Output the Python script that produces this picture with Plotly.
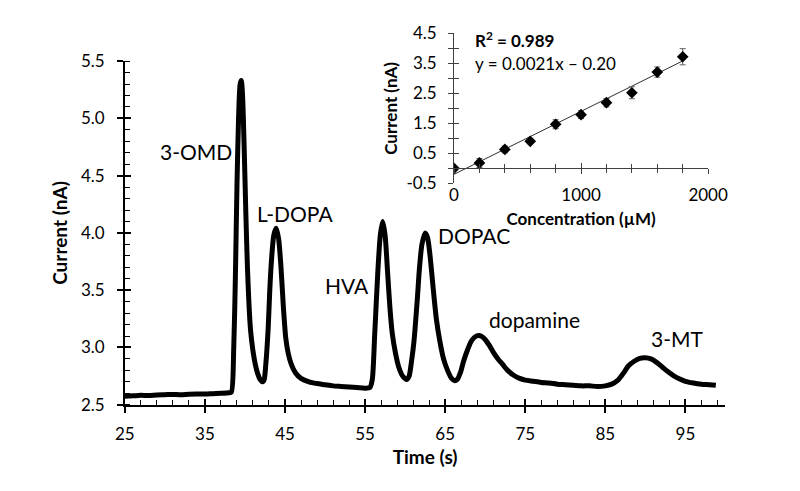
import plotly.graph_objects as go

# ---------------- data: chromatogram ----------------
time_s = [25.0, 26.0, 27.0, 28.0, 29.0, 30.0, 31.0, 32.0, 33.0, 34.0, 35.0, 36.0, 37.0, 38.0,
          38.3, 38.6, 38.8, 39.0, 39.2, 39.4, 39.55, 39.7, 39.9, 40.1, 40.3, 40.5, 40.7, 41.0,
          41.3, 41.6, 41.9, 42.2, 42.4, 42.6, 42.9, 43.1, 43.3, 43.6, 43.9, 44.2, 44.5, 44.8,
          45.1, 45.4, 45.8, 46.3, 47.0, 48.0, 49.0, 50.0, 51.0, 52.0, 53.0, 54.0, 55.0, 55.6,
          55.9, 56.2, 56.6, 56.9, 57.2, 57.5, 57.8, 58.1, 58.4, 58.8, 59.2, 59.7, 60.2, 60.5,
          60.8, 61.1, 61.5, 61.8, 62.1, 62.5, 62.8, 63.1, 63.5, 63.9, 64.3, 64.8, 65.3, 65.8,
          66.2, 66.5, 66.9, 67.3, 67.8, 68.3, 68.9, 69.5, 70.0, 70.5, 71.0, 71.6, 72.2, 72.8,
          73.5, 74.3, 75.0, 76.0, 77.0, 78.0, 79.0, 80.0, 81.0, 82.0, 83.0, 84.0, 85.0, 85.8,
          86.5, 87.2, 87.9, 88.6, 89.3, 90.0, 90.7, 91.4, 92.1, 92.8, 93.5, 94.3, 95.0, 96.0,
          97.0, 98.0, 98.8]
current_nA = [2.575, 2.578, 2.582, 2.580, 2.586, 2.588, 2.590, 2.587, 2.592, 2.594, 2.593, 2.597, 2.600, 2.605,
              2.61, 3.00, 3.60, 4.40, 5.00, 5.30, 5.33, 5.20, 4.75, 4.20, 3.72, 3.38, 3.15, 2.97,
              2.85, 2.77, 2.72, 2.70, 2.72, 2.85, 3.17, 3.50, 3.75, 3.98, 4.04, 3.95, 3.70, 3.35,
              3.08, 2.95, 2.85, 2.78, 2.73, 2.70, 2.685, 2.675, 2.665, 2.66, 2.655, 2.65, 2.645, 2.65,
              2.72, 3.11, 3.67, 3.98, 4.10, 3.98, 3.67, 3.35, 3.12, 2.95, 2.83, 2.75, 2.72, 2.75,
              2.88, 3.05, 3.40, 3.70, 3.90, 4.00, 3.96, 3.81, 3.52, 3.25, 3.07, 2.90, 2.80, 2.73,
              2.71, 2.72, 2.78, 2.88, 2.98, 3.06, 3.10, 3.10, 3.07, 3.02, 2.96, 2.90, 2.85, 2.80,
              2.76, 2.73, 2.715, 2.705, 2.695, 2.69, 2.68, 2.675, 2.67, 2.665, 2.665, 2.66, 2.665, 2.68,
              2.71, 2.77, 2.84, 2.88, 2.905, 2.91, 2.90, 2.87, 2.83, 2.79, 2.755, 2.725, 2.705, 2.69,
              2.68, 2.675, 2.67]

peak_names = ["3-OMD", "L-DOPA", "HVA", "DOPAC", "dopamine", "3-MT"]
peak_label_t = [33.9, 46.2, 52.8, 68.6, 76.2, 94.0]
peak_label_y = [4.71, 4.17, 3.54, 3.98, 3.24, 3.08]

# ---------------- data: calibration inset ----------------
conc_uM = [0, 200, 400, 600, 800, 1000, 1200, 1400, 1600, 1800]
cal_current = [0.00, 0.18, 0.63, 0.90, 1.47, 1.79, 2.19, 2.52, 3.21, 3.72]
cal_error = [0.00, 0.15, 0.11, 0.08, 0.15, 0.13, 0.14, 0.20, 0.17, 0.27]
fit_slope = 0.0021
fit_intercept = -0.20
fit_x = [0, 1800]
inset_ytick_vals = [-0.5, 0.5, 1.5, 2.5, 3.5, 4.5]
inset_ytick_text = ["-0.5", "0.5", "1.5", "2.5", "3.5", "4.5"]
inset_xtick_vals = [0, 1000, 2000]

FONT = "Lato"
W, H = 800, 491

# geometry (pixels)
main_l, main_r, main_t, main_b = 111, 735, 44, 403
ins_l, ins_r, ins_t, ins_b = 453, 717, 15, 171.7

main_xdom = [main_l / W, main_r / W]
main_ydom = [1 - main_b / H, 1 - main_t / H]
ins_xdom = [ins_l / W, ins_r / W]
ins_ydom = [1 - ins_b / H, 1 - ins_t / H]
ins_yrange = [-0.5, 4.5]
zero_pos = ins_ydom[0] + (0 - ins_yrange[0]) / (ins_yrange[1] - ins_yrange[0]) * (ins_ydom[1] - ins_ydom[0])

fig = go.Figure()

fig.add_trace(go.Scatter(x=time_s, y=current_nA, mode="lines",
                         line=dict(color="black", width=5, shape="spline", smoothing=0.7),
                         xaxis="x", yaxis="y", hoverinfo="skip"))

fit_y = [fit_slope * v + fit_intercept for v in fit_x]
fig.add_trace(go.Scatter(x=fit_x, y=fit_y, mode="lines",
                         line=dict(color="#303030", width=1),
                         xaxis="x2", yaxis="y2", hoverinfo="skip"))
fig.add_trace(go.Scatter(x=conc_uM, y=cal_current, mode="markers",
                         marker=dict(symbol="diamond", size=9, color="black"),
                         error_y=dict(type="data", array=cal_error, visible=True,
                                      color="#606060", thickness=1, width=3),
                         xaxis="x2", yaxis="y2", hoverinfo="skip"))

# empty traces so that the tick-only overlay axes get drawn (cross-style ticks)
for xa, ya in [("x3", "y"), ("x", "y3"), ("x2", "y4"), ("x4", "y2"), ("x5", "y2")]:
    fig.add_trace(go.Scatter(x=[], y=[], mode="lines", xaxis=xa, yaxis=ya,
                             hoverinfo="skip", showlegend=False))

axis_common = dict(showgrid=False, zeroline=False)

fig.update_layout(
    width=W, height=H,
    margin=dict(l=0, r=0, t=0, b=0),
    plot_bgcolor="rgba(0,0,0,0)", paper_bgcolor="white",
    showlegend=False,
    font=dict(family=FONT, size=17, color="black"),
    xaxis=dict(domain=main_xdom, anchor="y", range=[25, 100], tick0=25, dtick=10,
               ticks="outside", ticklen=6, tickwidth=1.5, tickcolor="black",
               ticklabelstandoff=7,
               minor=dict(ticks="inside", tick0=25, dtick=2, ticklen=5, tickwidth=1, tickcolor="black"),
               showline=True, linecolor="black", linewidth=1.5,
               title=dict(text="<b>Time (s)</b>", standoff=8, font=dict(size=19)),
               **axis_common),
    xaxis3=dict(overlaying="x", anchor="y", range=[25, 100], tick0=25, dtick=10,
                ticks="inside", ticklen=6, tickwidth=1.5, tickcolor="black",
                showticklabels=False, showline=False, **axis_common),
    yaxis=dict(domain=main_ydom, anchor="x", range=[2.5, 5.5], tick0=2.5, dtick=0.5,
               tickformat=".1f",
               ticks="outside", ticklen=6, tickwidth=1.5, tickcolor="black",
               ticklabelstandoff=9,
               minor=dict(ticks="inside", tick0=2.5, dtick=0.1, ticklen=5, tickwidth=1, tickcolor="black"),
               showline=True, linecolor="black", linewidth=1.5,
               title=dict(text="<b>Current (nA)</b>", standoff=8, font=dict(size=19)),
               **axis_common),
    yaxis3=dict(overlaying="y", anchor="x", range=[2.5, 5.5], tick0=2.5, dtick=0.5,
                ticks="inside", ticklen=6, tickwidth=1.5, tickcolor="black",
                showticklabels=False, showline=False, **axis_common),
    # inset
    xaxis2=dict(domain=ins_xdom, anchor="y2", range=[0, 2000], tickvals=inset_xtick_vals,
                ticks="", showline=False,
                title=dict(text="<b>Concentration (µM)</b>", standoff=8, font=dict(size=17)),
                **axis_common),
    xaxis4=dict(overlaying="x2", anchor="free", position=zero_pos, range=[0, 2000],
                tick0=0, dtick=1000, ticks="outside", ticklen=5, tickwidth=1, tickcolor="#404040",
                minor=dict(ticks="outside", tick0=0, dtick=200, ticklen=4, tickwidth=1, tickcolor="#404040"),
                showticklabels=False, showline=True, linecolor="#404040", linewidth=1,
                **axis_common),
    xaxis5=dict(overlaying="x2", anchor="free", position=zero_pos, range=[0, 2000],
                tick0=0, dtick=1000, ticks="inside", ticklen=5, tickwidth=1, tickcolor="#404040",
                minor=dict(ticks="inside", tick0=0, dtick=200, ticklen=4, tickwidth=1, tickcolor="#404040"),
                showticklabels=False, showline=False, **axis_common),
    yaxis2=dict(domain=ins_ydom, anchor="x2", range=ins_yrange,
                tickvals=inset_ytick_vals, ticktext=inset_ytick_text,
                ticks="outside", ticklen=5, tickwidth=1, tickcolor="#404040",
                ticklabelstandoff=8,
                minor=dict(ticks="outside", tick0=-0.5, dtick=0.5, ticklen=5, tickwidth=1, tickcolor="#404040"),
                showline=True, linecolor="#404040", linewidth=1,
                title=dict(text="<b>Current (nA)</b>", standoff=4, font=dict(size=17)),
                **axis_common),
    yaxis4=dict(overlaying="y2", anchor="x2", range=ins_yrange, tick0=-0.5, dtick=0.5,
                ticks="inside", ticklen=5, tickwidth=1, tickcolor="#404040",
                showticklabels=False, showline=False, **axis_common),
)

for name, t, v in zip(peak_names, peak_label_t, peak_label_y):
    fig.add_annotation(x=t, y=v, xref="x", yref="y", text=name, showarrow=False,
                       font=dict(family=FONT, size=21, color="black"))

fig.add_annotation(x=150, y=4.29, xref="x2", yref="y2", xanchor="left",
                   text="<b>R<sup>2</sup> = 0.989</b>", showarrow=False,
                   font=dict(family=FONT, size=17, color="black"))
fig.add_annotation(x=150, y=3.51, xref="x2", yref="y2", xanchor="left",
                   text=f"y = {fit_slope}x \u2013 {abs(fit_intercept):.2f}", showarrow=False,
                   font=dict(family=FONT, size=17, color="black"))

fig.write_html("out.html")
